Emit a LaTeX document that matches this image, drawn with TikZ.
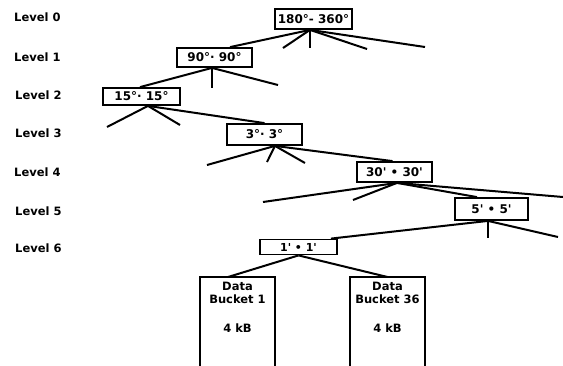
\documentclass[tikz,border=0pt]{standalone}
\usepackage{fontspec}
\setmainfont{DejaVu Sans}
\begin{document}
\begin{tikzpicture}[x=1pt,y=-1pt,
  lvl/.style={anchor=west,font=\fontsize{11.5}{13}\selectfont\bfseries,inner sep=0pt},
  cell/.style={draw,line width=1.8pt,font=\fontsize{12}{13}\selectfont\bfseries,inner sep=0pt,minimum height=20pt},
  edge/.style={line width=2pt},
  bucket/.style={inner sep=0pt,minimum width=75pt,minimum height=100pt,anchor=north},
  btext/.style={font=\fontsize{11.5}{13}\selectfont\bfseries,align=center,inner sep=0pt}
]
\useasboundingbox (0,0) rectangle (563,365);

% level labels
\node[lvl] (L0) at (14,17) {Level 0};
\node[lvl] (L1) at (14,57) {Level 1};
\node[lvl] (L2) at (15,95) {Level 2};
\node[lvl] (L3) at (15,133) {Level 3};
\node[lvl] (L4) at (14,172) {Level 4};
\node[lvl] (L5) at (15,211) {Level 5};
\node[lvl] (L6) at (15,248) {Level 6};

% cells
\node[cell,minimum width=77pt] (b0) at (313.5,19) {180°- 360°};
\node[cell,minimum width=75pt,minimum height=19pt] (b1) at (214.5,57.5) {90°· 90°};
\node[cell,minimum width=77pt,minimum height=17pt] (b2) at (141.5,96.5) {15°· 15°};
\node[cell,minimum width=75pt,minimum height=21pt] (b3) at (264.5,134.5) {3°· 3°};
\node[cell,minimum width=75pt] (b4) at (394.5,172) {30\textquotesingle{} • 30\textquotesingle};
\node[cell,minimum width=73pt,minimum height=22pt] (b5) at (491.5,209) {5\textquotesingle{} • 5\textquotesingle};
\node[cell,minimum width=77pt,minimum height=15pt,inner ysep=2pt,font=\fontsize{11}{13}\selectfont\bfseries] (b6) at (298.5,247) {1\textquotesingle{} • 1\textquotesingle};

% buckets
\node[bucket] (d1) at (237.5,277) {};
\node[bucket] (d36) at (387.5,277) {};
\draw[edge] (d1.south west) -- (d1.north west) -- (d1.north east) -- (d1.south east);
\draw[edge] (d36.south west) -- (d36.north west) -- (d36.north east) -- (d36.south east);
\node[btext,anchor=north] (t1) at ([yshift=-5pt]d1.north) {Data\\Bucket 1};
\node[btext,anchor=north] (t36) at ([yshift=-5pt]d36.north) {Data\\Bucket 36};
\node[btext] (k1) at (237.5,328) {4 kB};
\node[btext] (k36) at (387.5,328) {4 kB};

% free ends
\coordinate (e01) at (283,48);
\coordinate (e02) at (310,48);
\coordinate (e03) at (367,49);
\coordinate (e04) at (425,47);
\coordinate (e11) at (212,88);
\coordinate (e12) at (278,85);
\coordinate (e21) at (107,127);
\coordinate (e22) at (180,125);
\coordinate (e31) at (207,165);
\coordinate (e32) at (267,162);
\coordinate (e33) at (305,163);
\coordinate (e41) at (263,202);
\coordinate (e42) at (353,200);
\coordinate (e43) at (563,197);
\coordinate (e51) at (488,238);
\coordinate (e52) at (558,237);

% origins
\coordinate (o0) at ([xshift=-3.5pt]b0.south);
\coordinate (o1) at ([xshift=-2.5pt]b1.south);
\coordinate (o2) at ([xshift=6.5pt]b2.south);
\coordinate (o3) at ([xshift=10.5pt]b3.south);
\coordinate (o4) at ([xshift=2.5pt]b4.south);
\coordinate (o5) at ([xshift=-3.5pt]b5.south);

% connectors
\draw[edge] (o0) -- ([xshift=15.5pt]b1.north);
\draw[edge] (o0) -- (e01);
\draw[edge] (o0) -- (e02);
\draw[edge] (o0) -- (e03);
\draw[edge] (o0) -- (e04);

\draw[edge] (o1) -- ([xshift=-1.5pt]b2.north);
\draw[edge] (o1) -- (e11);
\draw[edge] (o1) -- (e12);

\draw[edge] (o2) -- (e21);
\draw[edge] (o2) -- (e22);
\draw[edge] (o2) -- (b3.north);

\draw[edge] (o3) -- (e31);
\draw[edge] (o3) -- (e32);
\draw[edge] (o3) -- (e33);
\draw[edge] (o3) -- ([xshift=-2pt]b4.north);

\draw[edge] (o4) -- (e41);
\draw[edge] (o4) -- (e42);
\draw[edge] (o4) -- ([xshift=-14.5pt]b5.north);
\draw[edge] (o4) -- (e43);

\draw[edge] (o5) -- ([xshift=-7pt]b6.north east);
\draw[edge] (o5) -- (e51);
\draw[edge] (o5) -- (e52);

\draw[edge] (b6.south) -- ([xshift=-9.5pt]d1.north);
\draw[edge] (b6.south) -- (d36.north);
\end{tikzpicture}
\end{document}
